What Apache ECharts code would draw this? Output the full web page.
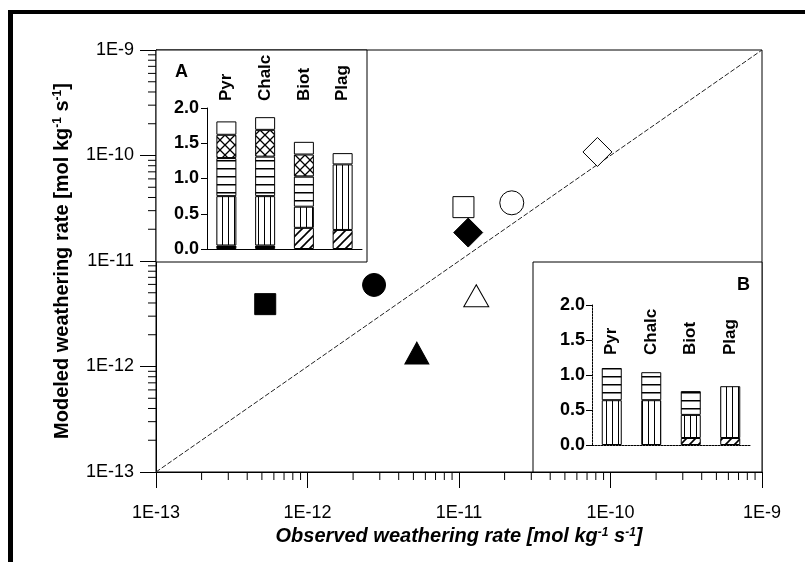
<!DOCTYPE html>
<html>
<head>
<meta charset="utf-8">
<script src="https://cdn.jsdelivr.net/npm/echarts@6/dist/echarts.min.js"></script>
<style>html,body{margin:0;padding:0;background:#fff;}#c{width:805px;height:562px;}</style>
</head>
<body>
<div id="c"></div>
<script>
// ---------- data ----------
const xTickLabels = ['1E-13', '1E-12', '1E-11', '1E-10', '1E-9'];
const yTickLabels = ['1E-13', '1E-12', '1E-11', '1E-10', '1E-9'];
const observed = [8.2e-11, 1.07e-11, 2.23e-11, 1.15e-11, 2.75e-12, 5.26e-13, 1.30e-11, 5.27e-12];
const modeled  = [1.08e-10, 3.24e-11, 3.56e-11, 1.86e-11, 5.93e-12, 3.9e-12, 4.69e-12, 1.34e-12];
const oneToOne = [[1e-13, 1e-13], [1e-9, 1e-9]];

const minerals = ['Pyr', 'Chalc', 'Biot', 'Plag'];
const insetTicks = ['0.0', '0.5', '1.0', '1.5', '2.0'];
// inset A segment heights (bottom to top)
const aBlack = [0.05, 0.05, 0, 0];
const aDiag  = [0, 0, 0.30, 0.27];
const aVert  = [0.70, 0.70, 0.30, 0.93];
const aHoriz = [0.54, 0.56, 0.43, 0];
const aCross = [0.33, 0.38, 0.31, 0];
const aBlank = [0.19, 0.18, 0.18, 0.16];
// inset B segment heights
const bDiag  = [0, 0, 0.10, 0.10];
const bVert  = [0.64, 0.64, 0.33, 0.74];
const bHoriz = [0.46, 0.40, 0.34, 0];

const minorMult = [2, 3, 4, 5, 6, 7, 8, 9];
const decades = [-13, -12, -11, -10];

// ---------- styles ----------
const markerStyles = [
  {symbol: 'diamond', size: 29, fill: '#fff'},
  {symbol: 'rect', size: 21, fill: '#fff'},
  {symbol: 'circle', size: 24, fill: '#fff'},
  {symbol: 'diamond', size: 29, fill: '#000'},
  {symbol: 'circle', size: 23, fill: '#000'},
  {symbol: 'rect', size: 21, fill: '#000'},
  {symbol: 'triangle', size: [25, 22], fill: '#fff'},
  {symbol: 'triangle', size: [24, 22], fill: '#000'}
];
const FONT = '"Liberation Sans", Arial, sans-serif';

function pattern(kind) {
  const c = document.createElement('canvas');
  const s = {v: 6, h: 8, d: 9, x: 10}[kind];
  c.width = s; c.height = s;
  const g = c.getContext('2d');
  g.fillStyle = '#fff'; g.fillRect(0, 0, s, s);
  g.fillStyle = '#000'; g.strokeStyle = '#000';
  if (kind === 'v') g.fillRect(0, 0, 1, s);
  if (kind === 'h') g.fillRect(0, 0, s, 1.5);
  if (kind === 'd') {
    g.lineWidth = 1.6;
    g.beginPath(); g.moveTo(-1, s + 1); g.lineTo(s + 1, -1);
    g.moveTo(-1, 1); g.lineTo(1, -1); g.moveTo(s - 1, s + 1); g.lineTo(s + 1, s - 1); g.stroke();
  }
  if (kind === 'x') {
    g.lineWidth = 1.3;
    g.beginPath(); g.moveTo(0, 0); g.lineTo(s, s); g.moveTo(s, 0); g.lineTo(0, s); g.stroke();
  }
  return {image: c, repeat: 'repeat'};
}
const fills = {black: '#000', diag: pattern('d'), vert: pattern('v'), horiz: pattern('h'), cross: pattern('x'), blank: '#fff'};

const minorVals = [];
decades.forEach(d => minorMult.forEach(m => minorVals.push(m * Math.pow(10, d))));

const chart = echarts.init(document.getElementById('c'), null, {renderer: 'canvas'});

function barSeries(name, values, fill, stack, xi, yi) {
  return {
    type: 'bar', name: name, stack: stack, xAxisIndex: xi, yAxisIndex: yi,
    barWidth: 20, z: 5,
    data: values.map(v => v === 0 ? null : v),
    itemStyle: {color: fill, borderColor: '#000', borderWidth: 1},
    emphasis: {disabled: true}, silent: true
  };
}

const axisTextA = {color: '#000', fontFamily: FONT, fontSize: 18, fontWeight: 'bold'};

const option = {
  animation: false,
  backgroundColor: '#fff',
  grid: [
    {left: 156, top: 50, width: 606, height: 422, show: true, borderColor: '#000', borderWidth: 1, backgroundColor: 'transparent', z: 0},
    {left: 156, top: 50, width: 211, height: 212, show: true, borderColor: '#000', borderWidth: 1, backgroundColor: '#fff', z: 1},
    {left: 533, top: 262, width: 229, height: 210, show: true, borderColor: '#000', borderWidth: 1, backgroundColor: '#fff', z: 1},
    {left: 207, top: 108, width: 155, height: 141},
    {left: 592, top: 305, width: 158, height: 140}
  ],
  xAxis: [
    {
      type: 'log', logBase: 10, min: 1e-13, max: 1e-9, gridIndex: 0,
      axisLine: {lineStyle: {color: '#000', width: 1}},
      axisTick: {length: 16, lineStyle: {color: '#000'}},
      minorTick: {show: false}, splitLine: {show: false},
      axisLabel: {margin: 32, color: '#000', fontFamily: FONT, fontSize: 18,
        formatter: (v, i) => xTickLabels[i]},
      name: 'Observed weathering rate [mol kg{s|-1} s{s|-1}]',
      nameLocation: 'middle', nameGap: 49,
      nameTextStyle: {color: '#000', fontFamily: FONT, fontSize: 20, fontWeight: 'bold', fontStyle: 'italic',
        rich: {s: {fontFamily: FONT, fontSize: 12, fontWeight: 'bold', fontStyle: 'italic', color: '#000', verticalAlign: 'top'}}}
    },
    {type: 'value', gridIndex: 1, show: false},
    {type: 'value', gridIndex: 2, show: false},
    {type: 'category', gridIndex: 3, data: minerals, position: 'top', z: 10,
      axisLine: {show: false}, axisTick: {show: false},
      axisLabel: Object.assign({rotate: 90, margin: 7}, axisTextA, {fontSize: 17})},
    {type: 'category', gridIndex: 3, data: minerals, position: 'bottom', z: 10,
      axisLine: {lineStyle: {color: '#000'}}, axisTick: {show: false}, axisLabel: {show: false}},
    {type: 'category', gridIndex: 4, data: minerals, position: 'top', offset: -50, z: 10,
      axisLine: {show: false}, axisTick: {show: false},
      axisLabel: Object.assign({rotate: 90, margin: 0}, axisTextA, {fontSize: 17})},
    {type: 'category', gridIndex: 4, data: minerals, position: 'bottom', z: 10,
      axisLine: {lineStyle: {color: '#000', type: [2, 1]}}, axisTick: {show: false}, axisLabel: {show: false}}
  ],
  yAxis: [
    {
      type: 'log', logBase: 10, min: 1e-13, max: 1e-9, gridIndex: 0,
      axisLine: {lineStyle: {color: '#000', width: 1}},
      axisTick: {length: 16, lineStyle: {color: '#000'}},
      minorTick: {show: false}, splitLine: {show: false},
      axisLabel: {margin: 22, color: '#000', fontFamily: FONT, fontSize: 18,
        formatter: (v, i) => yTickLabels[i]},
      name: 'Modeled weathering rate [mol kg{s|-1} s{s|-1}]',
      nameLocation: 'middle', nameGap: 84,
      nameTextStyle: {color: '#000', fontFamily: FONT, fontSize: 20, fontWeight: 'bold',
        rich: {s: {fontFamily: FONT, fontSize: 12, fontWeight: 'bold', color: '#000', verticalAlign: 'top'}}}
    },
    {type: 'value', gridIndex: 1, show: false},
    {type: 'value', gridIndex: 2, show: false},
    {type: 'value', gridIndex: 3, min: 0, max: 2, interval: 0.5, z: 10,
      axisLine: {show: true, lineStyle: {color: '#000'}},
      axisTick: {show: true, length: 6, lineStyle: {color: '#000'}},
      splitLine: {show: false},
      axisLabel: Object.assign({margin: 8, formatter: (v, i) => insetTicks[i]}, axisTextA)},
    {type: 'value', gridIndex: 4, min: 0, max: 2, interval: 0.5, z: 10,
      axisLine: {show: true, lineStyle: {color: '#000', type: [2, 1]}},
      axisTick: {show: true, length: 6, lineStyle: {color: '#000'}},
      splitLine: {show: false},
      axisLabel: Object.assign({margin: 7, formatter: (v, i) => insetTicks[i]}, axisTextA)}
  ],
  graphic: [
    {type: 'rect', shape: {x: 8, y: 10, width: 5, height: 552}, style: {fill: '#000'}, z: 100},
    {type: 'rect', shape: {x: 8, y: 10, width: 797, height: 4}, style: {fill: '#000'}, z: 100},
    {type: 'text', left: 175, top: 63, z: 100, style: {text: 'A', font: 'bold 18px ' + FONT, fill: '#000'}},
    {type: 'text', left: 737, top: 276, z: 100, style: {text: 'B', font: 'bold 18px ' + FONT, fill: '#000'}}
  ],
  series: [
    {type: 'line', xAxisIndex: 0, yAxisIndex: 0, data: oneToOne, symbol: 'none', silent: true,
      lineStyle: {color: '#222', width: 1, type: [5, 2]}, z: 2},
    {type: 'custom', xAxisIndex: 0, yAxisIndex: 0, clip: false, silent: true, z: 3,
      data: minorVals.map(v => [v, 1e-13]),
      renderItem: (p, api) => {
        const c = api.coord([api.value(0), api.value(1)]);
        return {type: 'line', shape: {x1: c[0], y1: c[1], x2: c[0], y2: c[1] + 8}, style: {stroke: '#000', lineWidth: 1}};
      }},
    {type: 'custom', xAxisIndex: 0, yAxisIndex: 0, clip: false, silent: true, z: 3,
      data: minorVals.map(v => [1e-13, v]),
      renderItem: (p, api) => {
        const c = api.coord([api.value(0), api.value(1)]);
        return {type: 'line', shape: {x1: c[0] - 8, y1: c[1], x2: c[0], y2: c[1]}, style: {stroke: '#000', lineWidth: 1}};
      }},
    {type: 'scatter', xAxisIndex: 0, yAxisIndex: 0, z: 4, silent: true,
      data: observed.map((x, i) => ({
        value: [x, modeled[i]],
        symbol: markerStyles[i].symbol, symbolSize: markerStyles[i].size,
        itemStyle: {color: markerStyles[i].fill, borderColor: '#000', borderWidth: 1, opacity: 1}
      }))},
    barSeries('black', aBlack, fills.black, 'A', 3, 3),
    barSeries('diag', aDiag, fills.diag, 'A', 3, 3),
    barSeries('vert', aVert, fills.vert, 'A', 3, 3),
    barSeries('horiz', aHoriz, fills.horiz, 'A', 3, 3),
    barSeries('cross', aCross, fills.cross, 'A', 3, 3),
    barSeries('blank', aBlank, fills.blank, 'A', 3, 3),
    barSeries('diag', bDiag, fills.diag, 'B', 5, 4),
    barSeries('vert', bVert, fills.vert, 'B', 5, 4),
    barSeries('horiz', bHoriz, fills.horiz, 'B', 5, 4)
  ]
};
chart.setOption(option);
</script>
</body>
</html>
